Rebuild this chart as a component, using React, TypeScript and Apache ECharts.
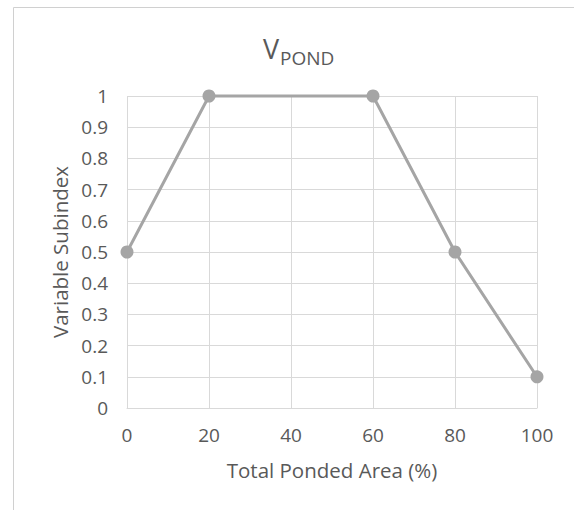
import React, { useEffect, useRef } from "react";
import * as echarts from "echarts";

const xValues = [0, 20, 60, 80, 100];
const yValues = [0.5, 1, 1, 0.5, 0.1];
const titleMain = "V";
const titleSub = "POND";
const xAxisName = "Total Ponded Area (%)";
const yAxisName = "Variable Subindex";

export default function App() {
  const ref = useRef<HTMLDivElement>(null);
  useEffect(() => {
    if (!ref.current) return;
    const chart = echarts.init(ref.current, null, { renderer: "svg" });
    const font = "Open Sans";
    const textColor = "#595959";
    const gridColor = "#d9d9d9";
    chart.setOption({
      animation: false,
      backgroundColor: "#ffffff",
      textStyle: { fontFamily: font },
      graphic: [
        {
          type: "polyline",
          shape: { points: [[13.5, 520], [13.5, 7.5], [580, 7.5]] },
          style: { stroke: "#d0d0d0", lineWidth: 1, fill: "none" },
          silent: true,
        },
        {
          type: "text",
          x: 263,
          y: 48,
          silent: true,
          style: {
            text: titleMain,
            fontFamily: font,
            fontSize: 27,
            fill: textColor,
            align: "left",
            verticalAlign: "middle",
          },
        },
        {
          type: "text",
          x: 280,
          y: 58,
          silent: true,
          style: {
            text: titleSub,
            fontFamily: font,
            fontSize: 19,
            fill: textColor,
            align: "left",
            verticalAlign: "middle",
          },
        },
      ],
      grid: { left: 127, right: 37, top: 96, bottom: 102, containLabel: false },
      xAxis: {
        type: "value",
        min: 0,
        max: 100,
        interval: 20,
        name: xAxisName,
        nameLocation: "middle",
        nameGap: 51,
        nameTextStyle: { fontFamily: font, fontSize: 20.5, color: textColor },
        axisLine: { show: true, lineStyle: { color: gridColor } },
        axisTick: { show: false },
        axisLabel: { fontFamily: font, fontSize: 19, color: textColor, margin: 17 },
        splitLine: { show: true, lineStyle: { color: gridColor, width: 1 } },
      },
      yAxis: {
        type: "value",
        min: 0,
        max: 1,
        interval: 0.1,
        name: yAxisName,
        nameLocation: "middle",
        nameGap: 55,
        nameTextStyle: { fontFamily: font, fontSize: 20.5, color: textColor },
        axisLine: { show: false },
        axisTick: { show: false },
        axisLabel: { fontFamily: font, fontSize: 19, color: textColor, margin: 19 },
        splitLine: { show: true, lineStyle: { color: gridColor, width: 1 } },
      },
      series: [
        {
          type: "line",
          data: xValues.map((x, i) => [x, yValues[i]]),
          symbol: "circle",
          symbolSize: 13,
          lineStyle: { color: "#a5a5a5", width: 3 },
          itemStyle: { color: "#a5a5a5" },
          clip: false,
        },
      ],
    });
    return () => chart.dispose();
  }, []);
  return (
    <div
      ref={ref}
      style={{ position: "fixed", left: 0, top: 0, width: 574, height: 510 }}
    />
  );
}
